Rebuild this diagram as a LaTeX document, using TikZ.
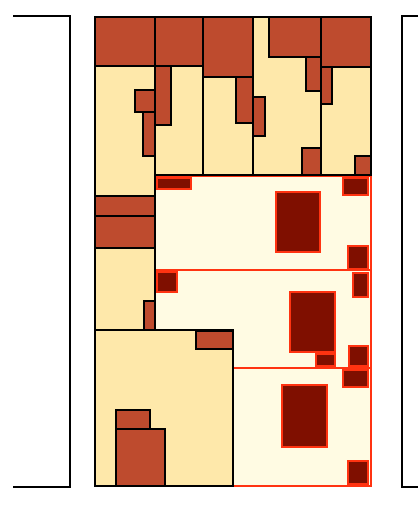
\documentclass[tikz,border=0pt]{standalone}
\usepackage{tikz}

\definecolor{beige}{HTML}{FEE8AA}
\definecolor{brick}{HTML}{BE4B2E}
\definecolor{pale}{HTML}{FFFBE3}
\definecolor{zonered}{HTML}{FF3311}
\definecolor{deep}{HTML}{7F0F00}

\tikzset{
    cell/.style={fill=beige, draw=black, line width=2.6pt},
    blk/.style={fill=brick, draw=black, line width=2.6pt},
    zone/.style={fill=pale, draw=zonered, line width=2.2pt},
    hot/.style={fill=deep, draw=zonered, line width=2pt},
    bracket/.style={draw=black, line width=2.6pt}
}

\begin{document}
\begin{tikzpicture}[x=1pt, y=-1pt]
    \useasboundingbox (0,0) rectangle (418,505);

    % free zones
    \draw[zone] (155,176) rectangle (371,270);
    \draw[zone] (155,270) rectangle (371,368);
    \draw[zone] (233,368) rectangle (371,486);

    % columns
    \draw[cell] (95,66) rectangle (155,196);
    \draw[cell] (155,66) rectangle (203,175);
    \draw[cell] (203,77) rectangle (253,175);
    \draw[cell] (253,17) rectangle (321,175);
    \draw[cell] (321,67) rectangle (371,175);
    \draw[cell] (95,248) rectangle (155,330);
    \draw[cell] (95,330) rectangle (233,486);

    % used blocks
    \draw[blk] (95,17) rectangle (155,66);
    \draw[blk] (155,17) rectangle (203,66);
    \draw[blk] (203,17) rectangle (253,77);
    \draw[blk] (269,17) rectangle (321,57);
    \draw[blk] (321,17) rectangle (371,67);
    \draw[blk] (135,90) rectangle (155,112);
    \draw[blk] (143,112) rectangle (155,156);
    \draw[blk] (155,66) rectangle (171,125);
    \draw[blk] (236,77) rectangle (253,123);
    \draw[blk] (306,57) rectangle (321,91);
    \draw[blk] (253,97) rectangle (265,136);
    \draw[blk] (302,148) rectangle (321,175);
    \draw[blk] (321,67) rectangle (332,104);
    \draw[blk] (355,156) rectangle (371,175);
    \draw[blk] (95,196) rectangle (155,216);
    \draw[blk] (95,216) rectangle (155,248);
    \draw[blk] (144,301) rectangle (155,330);
    \draw[blk] (196,331) rectangle (233,349);
    \draw[blk] (116,410) rectangle (150,429);
    \draw[blk] (116,429) rectangle (165,486);

    % hot spots
    \draw[hot] (157,178) rectangle (191,189);
    \draw[hot] (276,192) rectangle (320,252);
    \draw[hot] (343,178) rectangle (368,195);
    \draw[hot] (348,246) rectangle (368,269);
    \draw[hot] (157,272) rectangle (177,292);
    \draw[hot] (353,273) rectangle (368,297);
    \draw[hot] (290,292) rectangle (335,352);
    \draw[hot] (316,354) rectangle (335,366);
    \draw[hot] (349,346) rectangle (368,366);
    \draw[hot] (343,370) rectangle (368,387);
    \draw[hot] (282,385) rectangle (327,447);
    \draw[hot] (348,461) rectangle (368,484);

    % brackets
    \coordinate (lt) at (13,16);
    \coordinate (lb) at (13,487);
    \coordinate (rt) at (418,16);
    \coordinate (rb) at (418,487);
    \draw[bracket] (lt) -- (70,16) -- (70,487) -- (lb);
    \draw[bracket] (rt) -- (402,16) -- (402,487) -- (rb);
\end{tikzpicture}
\end{document}
